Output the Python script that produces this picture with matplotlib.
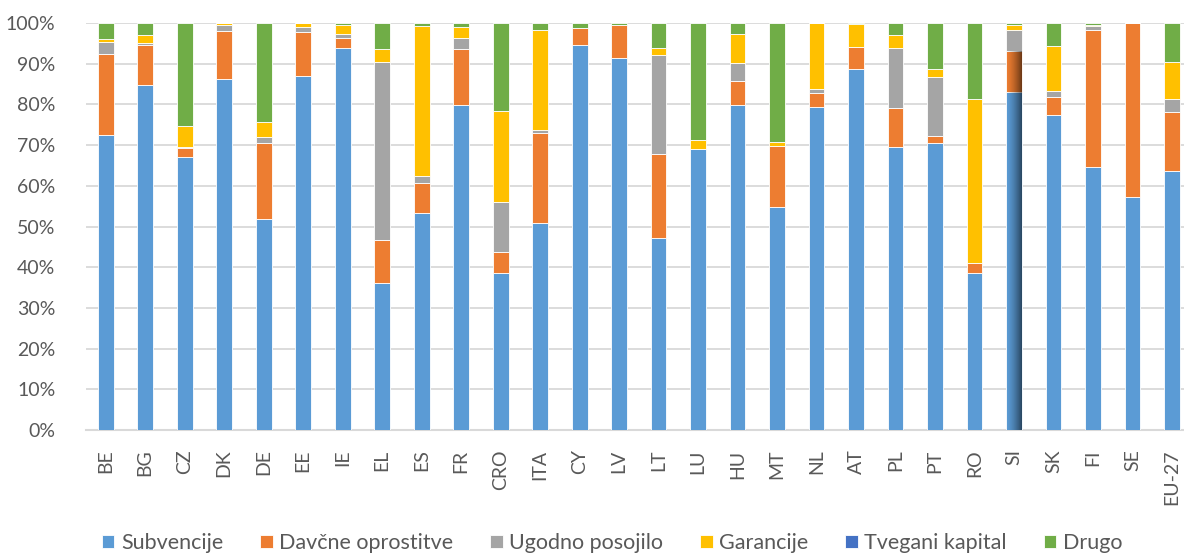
import numpy as np
import matplotlib.pyplot as plt
from matplotlib.ticker import PercentFormatter

plt.rcParams['font.family'] = ['Lato', 'DejaVu Sans']

drzave = ['BE', 'BG', 'CZ', 'DK', 'DE', 'EE', 'IE', 'EL', 'ES', 'FR', 'CRO', 'ITA', 'CY', 'LV',
          'LT', 'LU', 'HU', 'MT', 'NL', 'AT', 'PL', 'PT', 'RO', 'SI', 'SK', 'FI', 'SE', 'EU-27']

subvencije = [72.4, 84.7, 67.1, 86.2, 51.8, 87.1, 93.8, 36.1, 53.2, 79.9, 38.6, 50.9, 94.5, 91.3,
              47.2, 69.0, 79.8, 54.7, 79.3, 88.8, 69.6, 70.4, 38.6, 83.1, 77.5, 64.7, 57.2, 63.6]
davcne = [19.9, 10.0, 2.1, 11.9, 18.6, 10.8, 2.6, 10.7, 7.5, 13.6, 5.2, 22.1, 4.2, 8.1,
          20.5, 0.0, 5.9, 15.1, 3.6, 5.2, 9.4, 1.9, 2.4, 10.0, 4.2, 33.7, 42.8, 14.6]
posojilo = [3.0, 0.5, 0.3, 1.5, 1.5, 1.0, 1.0, 43.7, 1.8, 2.7, 12.3, 0.6, 0.0, 0.0,
            24.5, 0.0, 4.4, 0.0, 0.8, 0.0, 14.8, 14.5, 0.0, 5.3, 1.7, 0.8, 0.0, 3.1]
garancije = [0.8, 1.9, 5.3, 0.4, 3.7, 1.1, 2.2, 3.0, 36.8, 2.7, 22.4, 24.8, 0.0, 0.0,
             1.7, 2.3, 7.3, 1.0, 16.3, 5.8, 3.3, 1.8, 40.3, 1.1, 11.0, 0.3, 0.0, 9.0]
tvegani = [0.0] * 28
drugo = [3.9, 2.9, 25.2, 0.0, 24.4, 0.0, 0.4, 6.5, 0.7, 1.1, 21.5, 1.6, 1.3, 0.6,
         6.1, 28.7, 2.6, 29.2, 0.0, 0.2, 2.9, 11.4, 18.7, 0.5, 5.6, 0.5, 0.0, 9.7]

serije = [('Subvencije', subvencije, '#5B9BD5'),
          ('Davčne oprostitve', davcne, '#ED7D31'),
          ('Ugodno posojilo', posojilo, '#A5A5A5'),
          ('Garancije', garancije, '#FFC000'),
          ('Tvegani kapital', tvegani, '#4472C4'),
          ('Drugo', drugo, '#70AD47')]

fig = plt.figure(figsize=(11.84, 5.54), dpi=100)
W, H = 1184, 554
ax = fig.add_axes([86 / W, (H - 430) / H, (1191.7 - 86) / W, 407 / H])

x = np.arange(len(drzave))
bottom = np.zeros(len(drzave))
for ime, vals, barva in serije:
    vals = np.array(vals)
    ax.bar(x, vals, 0.4, bottom=bottom, color=barva, label=ime,
           edgecolor='white', linewidth=0.6, zorder=3)
    bottom += vals

# osvetljen stolpec SI (senca na desni strani)
i = drzave.index('SI')
grad = np.linspace(0, 1, 50) ** 1.5
img = np.zeros((2, 50, 4))
img[..., 3] = grad * 0.55
top_si = subvencije[i] + davcne[i]
ax.imshow(img, extent=(i - 0.2, i + 0.2, 0, top_si), aspect='auto', zorder=4,
          interpolation='bilinear')

ax.set_xlim(-0.5, len(drzave) - 0.5)
ax.set_ylim(0, 100)
ax.yaxis.set_major_locator(plt.MultipleLocator(10))
ax.yaxis.set_major_formatter(PercentFormatter(decimals=0))
ax.grid(axis='y', color='#D9D9D9', linewidth=1.3, zorder=0)
for s in ['top', 'right', 'left']:
    ax.spines[s].set_visible(False)
ax.spines['bottom'].set_color('#D9D9D9')
ax.spines['bottom'].set_linewidth(1.5)
ax.set_xticks(x)
ax.set_xticklabels(drzave, rotation=90)
ax.tick_params(axis='both', length=0, labelsize=14, colors='#595959')
ax.tick_params(axis='y', pad=22)
ax.tick_params(axis='x', pad=14)

handles, labels = ax.get_legend_handles_labels()
fig.legend(handles, labels, loc='center', bbox_to_anchor=(612 / W, 1 - 543 / H), ncol=6,
           frameon=False, fontsize=15.5, labelcolor='#595959', handlelength=0.6,
           handleheight=0.6, handletextpad=0.3, columnspacing=1.7)

fig.savefig('out.png', dpi=100)
